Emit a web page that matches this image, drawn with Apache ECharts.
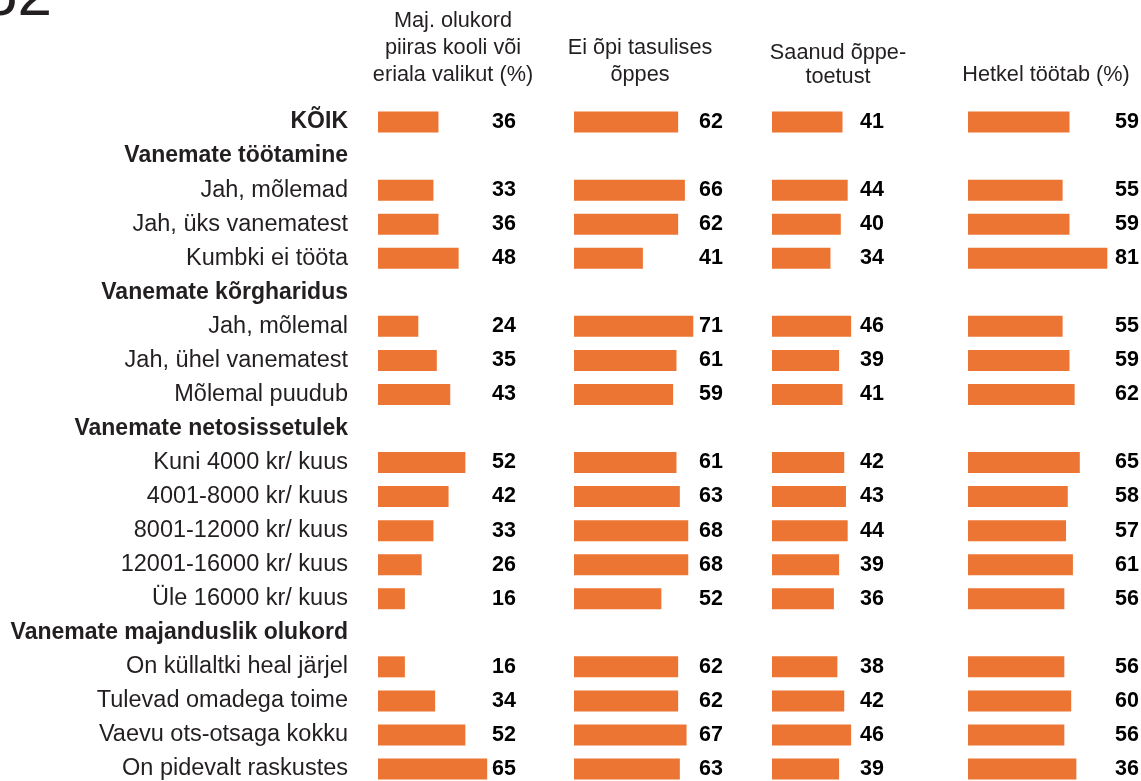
<!DOCTYPE html>
<html>
<head>
<meta charset="utf-8">
<script src="https://cdn.jsdelivr.net/npm/echarts@6/dist/echarts.min.js"></script>
<style>
  html, body { margin: 0; padding: 0; background: #fff; }
  #main { width: 1141px; height: 781px; }
</style>
</head>
<body>
<div id="main"></div>
<script>
const rowLabels = [
  'KÕIK',
  'Vanemate töötamine', 'Jah, mõlemad', 'Jah, üks vanematest', 'Kumbki ei tööta',
  'Vanemate kõrgharidus', 'Jah, mõlemal', 'Jah, ühel vanematest', 'Mõlemal puudub',
  'Vanemate netosissetulek', 'Kuni 4000 kr/ kuus', '4001-8000 kr/ kuus', '8001-12000 kr/ kuus', '12001-16000 kr/ kuus', 'Üle 16000 kr/ kuus',
  'Vanemate majanduslik olukord', 'On küllaltki heal järjel', 'Tulevad omadega toime', 'Vaevu ots-otsaga kokku', 'On pidevalt raskustes'
];
const boldRows = ['KÕIK', 'Vanemate töötamine', 'Vanemate kõrgharidus', 'Vanemate netosissetulek', 'Vanemate majanduslik olukord'];

const columnTitles = [
  'Maj. olukord\npiiras kooli või\neriala valikut (%)',
  'Ei õpi tasulises\nõppes',
  'Saanud õppe-\ntoetust',
  'Hetkel töötab (%)'
];

// printed values per column (null = group heading row)
const majOlukord = [36, null, 33, 36, 48, null, 24, 35, 43, null, 52, 42, 33, 26, 16, null, 16, 34, 52, 65];
const tasulises  = [62, null, 66, 62, 41, null, 71, 61, 59, null, 61, 63, 68, 68, 52, null, 62, 62, 67, 63];
const toetus     = [41, null, 44, 40, 34, null, 46, 39, 41, null, 42, 43, 44, 39, 36, null, 38, 42, 46, 39];
const tootab     = [59, null, 55, 59, 81, null, 55, 59, 62, null, 65, 58, 57, 61, 56, null, 56, 60, 56, 36];
// in the source the last bar of this column is drawn much longer than its printed 36
const tootabBars = [59, null, 55, 59, 81, null, 55, 59, 62, null, 65, 58, 57, 61, 56, null, 56, 60, 56, 63];

const FONT = '"Liberation Sans", Arial, sans-serif';
const ORANGE = '#EC7533';
const TXT = '#231f20';

// layout per column: grid left, px width for 0..100, label x from bar start, title centre / line height
const cols = [
  { bars: majOlukord, labels: majOlukord, left: 378, width: 168, labelX: 114, titleX: 453, titleLH: 27 },
  { bars: tasulises,  labels: tasulises,  left: 574, width: 168, labelX: 125, titleX: 640, titleLH: 27 },
  { bars: toetus,     labels: toetus,     left: 772, width: 172, labelX: 88,  titleX: 838, titleLH: 24 },
  { bars: tootabBars, labels: tootab,     left: 968, width: 172, labelX: 147, titleX: 1046, titleLH: 27 }
];

const chart = echarts.init(document.getElementById('main'), null, { renderer: 'canvas' });

const option = {
  backgroundColor: '#fff',
  animation: false,
  textStyle: { fontFamily: FONT },
  title: [
    {
      text: '52', left: -17, top: -2, padding: 0,
      textVerticalAlign: 'middle',
      textStyle: { fontFamily: FONT, fontSize: 62, fontWeight: 'normal', color: TXT }
    }
  ].concat(cols.map((c, i) => ({
    text: columnTitles[i],
    left: c.titleX, top: 89, padding: 0,
    textAlign: 'center', textVerticalAlign: 'bottom',
    textStyle: { fontFamily: FONT, fontSize: 21.7, fontWeight: 'normal', lineHeight: c.titleLH, color: TXT }
  }))),
  grid: cols.map(c => ({
    left: c.left, top: 105, width: c.width, height: 681,
    containLabel: false, outerBoundsMode: 'none'
  })),
  xAxis: cols.map((c, i) => ({
    type: 'value', gridIndex: i, min: 0, max: 100,
    show: false
  })),
  yAxis: cols.map((c, i) => ({
    type: 'category', gridIndex: i, data: rowLabels, inverse: true,
    axisLine: { show: false }, axisTick: { show: false }, splitLine: { show: false },
    axisLabel: i === 0 ? {
      show: true, margin: 30, align: 'right',
      formatter: v => boldRows.includes(v) ? '{h|' + v + '}' : '{n|' + v + '}',
      rich: {
        n: { fontFamily: FONT, fontSize: 23.5, color: TXT },
        h: { fontFamily: FONT, fontSize: 23, fontWeight: 'bold', color: TXT }
      }
    } : { show: false }
  })),
  series: cols.map((c, i) => ({
    type: 'bar',
    xAxisIndex: i, yAxisIndex: i,
    data: c.bars,
    barWidth: 21,
    itemStyle: { color: ORANGE },
    label: {
      show: true,
      position: [c.labelX, '50%'],
      align: 'left', verticalAlign: 'middle',
      formatter: p => c.labels[p.dataIndex] == null ? '' : String(c.labels[p.dataIndex]),
      fontFamily: FONT, fontSize: 21.5, fontWeight: 'bold', color: '#000'
    }
  }))
};

chart.setOption(option);
</script>
</body>
</html>
